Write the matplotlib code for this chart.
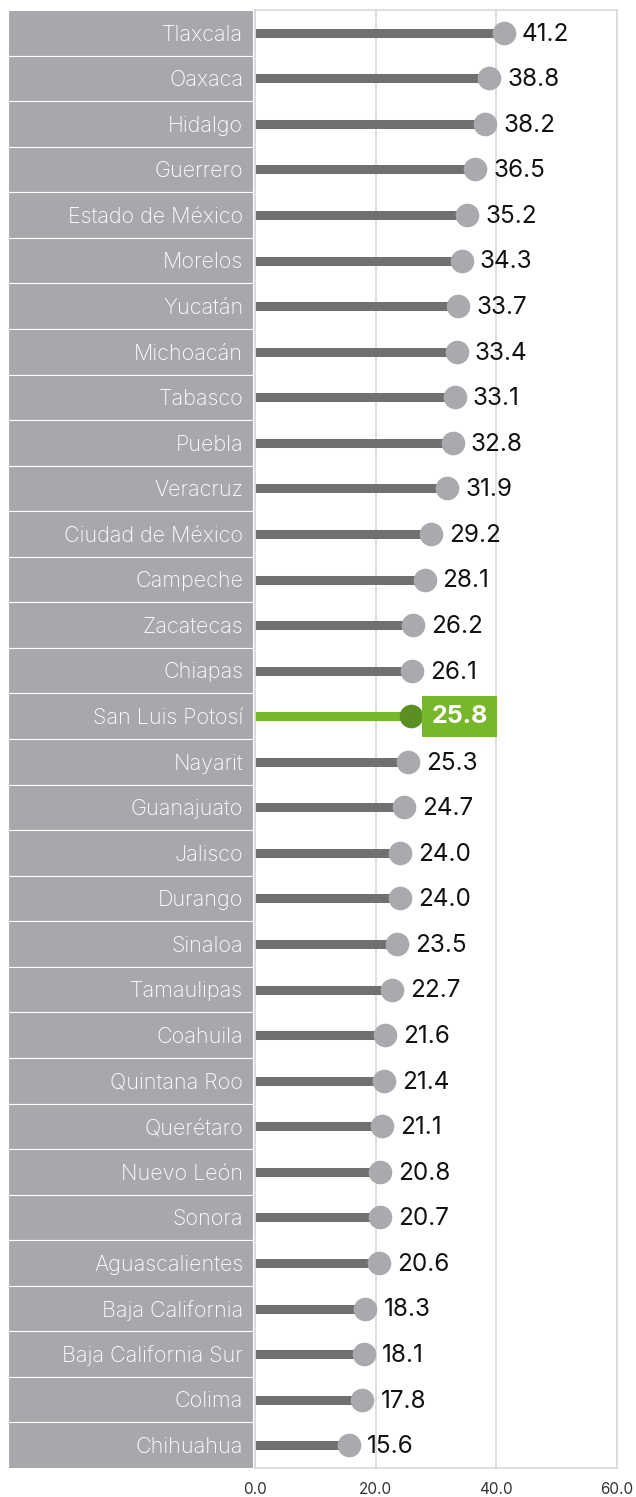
import matplotlib.pyplot as plt
import numpy as np

estados = ["Tlaxcala", "Oaxaca", "Hidalgo", "Guerrero", "Estado de México", "Morelos",
           "Yucatán", "Michoacán", "Tabasco", "Puebla", "Veracruz", "Ciudad de México",
           "Campeche", "Zacatecas", "Chiapas", "San Luis Potosí", "Nayarit", "Guanajuato",
           "Jalisco", "Durango", "Sinaloa", "Tamaulipas", "Coahuila", "Quintana Roo",
           "Querétaro", "Nuevo León", "Sonora", "Aguascalientes", "Baja California",
           "Baja California Sur", "Colima", "Chihuahua"]
valores = [41.2, 38.8, 38.2, 36.5, 35.2, 34.3, 33.7, 33.4, 33.1, 32.8, 31.9, 29.2,
           28.1, 26.2, 26.1, 25.8, 25.3, 24.7, 24.0, 24.0, 23.5, 22.7, 21.6, 21.4,
           21.1, 20.8, 20.7, 20.6, 18.3, 18.1, 17.8, 15.6]
destacado = "San Luis Potosí"
ticks_x = [0, 20, 40, 60]

plt.rcParams['font.family'] = ['Inter', 'DejaVu Sans']

W, H = 636, 1497
fig = plt.figure(figsize=(W / 100, H / 100), dpi=100)
top = 1 - 10 / H
bottom = 1 - 1468 / H
ax_lab = fig.add_axes([8 / W, bottom, (253 - 8) / W, top - bottom])
ax = fig.add_axes([255 / W, bottom, (617 - 255) / W, top - bottom])

n = len(estados)
y = np.arange(n)

# panel de etiquetas
ax_lab.barh(y, 1, height=1, color="#A7A8AC", edgecolor="white", linewidth=0.8)
for yi, nombre in zip(y, estados):
    ax_lab.text(0.96, yi + 0.04, nombre, ha="right", va="center", color="white",
                fontsize=15.5, fontweight="light")
ax_lab.set_xlim(0, 1)
ax_lab.set_ylim(n - 0.5, -0.5)
ax_lab.axis("off")

# lollipops
gris_barra = "#707070"
gris_punto = "#A9AAAE"
verde = "#76B82A"
verde_osc = "#5A8F24"
for yi, nombre, v in zip(y, estados, valores):
    if nombre == destacado:
        ax.plot([0, v], [yi, yi], color=verde, lw=6.5, solid_capstyle="butt", zorder=2)
        ax.plot(v, yi, "o", ms=16, color=verde_osc, zorder=3)
        ax.annotate(f"{v:.1f}", (v, yi), xytext=(15, 0), textcoords="offset points",
                    ha="left", va="center", fontsize=18, fontweight="bold", color="white",
                    bbox=dict(boxstyle="square,pad=0.36", fc=verde, ec="none"))
    else:
        ax.plot([0, v], [yi, yi], color=gris_barra, lw=6.5, solid_capstyle="butt", zorder=2)
        ax.plot(v, yi, "o", ms=16, color=gris_punto, zorder=3)
        ax.annotate(f"{v:.1f}", (v, yi), xytext=(13, -1), textcoords="offset points",
                    ha="left", va="center", fontsize=17.5, color="#111111")

ax.set_xlim(0, 60)
ax.set_ylim(n - 0.5, -0.5)
ax.set_xticks(ticks_x)
ax.set_xticklabels([f"{t:.1f}" for t in ticks_x], fontsize=11, color="#333333")
ax.tick_params(axis="x", length=0, pad=10)
ax.set_yticks([])
ax.grid(axis="x", color="#D9D9D9", lw=1.2)
ax.set_axisbelow(True)
for s in ax.spines.values():
    s.set_color("#D9D9D9")
    s.set_linewidth(1.2)

fig.savefig("out.png", dpi=100)
